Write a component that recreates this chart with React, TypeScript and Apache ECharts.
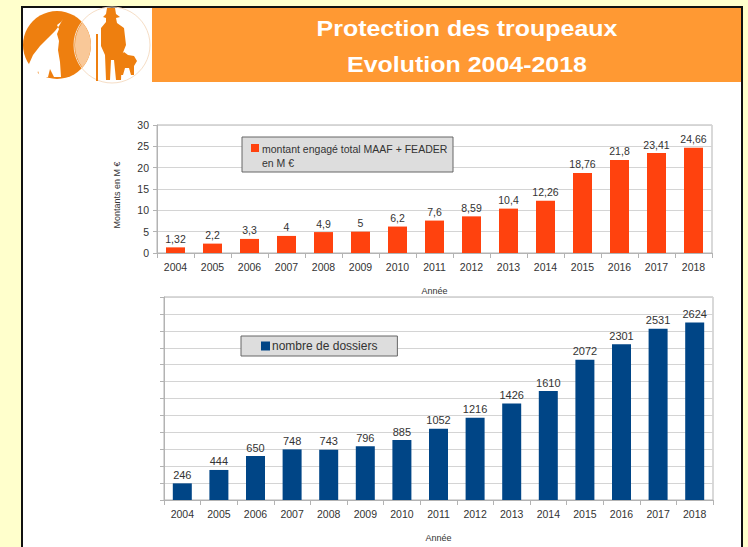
import React, { useEffect, useRef } from "react";
import * as echarts from "echarts";

const years = ["2004", "2005", "2006", "2007", "2008", "2009", "2010", "2011", "2012", "2013", "2014", "2015", "2016", "2017", "2018"];
const montants = [1.32, 2.2, 3.3, 4, 4.9, 5, 6.2, 7.6, 8.59, 10.4, 12.26, 18.76, 21.8, 23.41, 24.66];
const dossiers = [246, 444, 650, 748, 743, 796, 885, 1052, 1216, 1426, 1610, 2072, 2301, 2531, 2624];
const titleLines = ["Protection des troupeaux", "Evolution 2004-2018"];
const topLegend = ["montant engagé total MAAF + FEADER", "en M €"];
const bottomLegend = "nombre de dossiers";
const xName = "Année";
const yNameTop = "Montants en M €";

const FONT = "'Liberation Sans', Arial, sans-serif";

const lensPath = "M81.4 22.4 A34 34 0 0 1 81.4 67.6 A38 38 0 0 1 81.4 22.4 Z";
const wolfPath =
  "M62 19 L58 26 L54 31 L47 38 L39 46 L32 55 L28 64 L29 73 L32 77 L36 77 L37 71 L39 77 L47 77 L49 69 L53 77 L60 77 L59 62 L57 50 L58 41 L56 34 L58 29 L56 25 L60 22 Z";
const shepherdPath =
  "M103 17 L106 14 L107 8 L115 8 L116 14 L120 17 L116 18 L117 23 L124 28 L126 45 L122 55 L121 80 L116 80 L114 60 L111 60 L110 80 L106 80 L105 55 L101 46 L101 28 L106 22 L106 18 Z M96 34 L98 34 L98 81 L96 81 Z M118 58 L124 52 L128 55 L134 56 L137 61 L134 66 L134 75 L131 75 L129 68 L125 68 L123 75 L120 75 L120 66 Z";

let registered = false;
function registerShapes() {
  if (registered) return;
  registered = true;
  echarts.graphic.registerShape("lens", echarts.graphic.extendPath(lensPath, {}));
  echarts.graphic.registerShape("wolf", echarts.graphic.extendPath(wolfPath, {}));
  echarts.graphic.registerShape("shepherd", echarts.graphic.extendPath(shepherdPath, {}));
}

export default function App() {
  const ref = useRef<HTMLDivElement>(null);
  useEffect(() => {
    document.body.style.margin = "0";
    registerShapes();
    const chart = echarts.init(ref.current!, null, { renderer: "svg" });
    const axisLineColor = "#b3b3b3";
    const gridColor = "#d4d4d4";
    const option: any = {
      animation: false,
      backgroundColor: "#FFFFCC",
      textStyle: { fontFamily: FONT },
      grid: [
        { left: 157, right: 36, top: 125, height: 128, show: true, borderColor: axisLineColor, borderWidth: 1 },
        { left: 164, right: 35, top: 297, height: 203, show: true, borderColor: axisLineColor, borderWidth: 1 },
      ],
      xAxis: [
        {
          type: "category",
          gridIndex: 0,
          data: years,
          axisLine: { lineStyle: { color: axisLineColor } },
          axisTick: { show: true, length: 5, lineStyle: { color: axisLineColor } },
          axisLabel: { color: "#333", fontSize: 10.5, margin: 8, fontFamily: FONT },
          name: xName,
          nameLocation: "middle",
          nameGap: 33,
          nameTextStyle: { fontSize: 9, color: "#333", fontFamily: FONT },
        },
        {
          type: "category",
          gridIndex: 1,
          data: years,
          axisLine: { lineStyle: { color: axisLineColor } },
          axisTick: { show: true, length: 5, lineStyle: { color: axisLineColor } },
          axisLabel: { color: "#333", fontSize: 10.5, margin: 8, fontFamily: FONT },
          name: xName,
          nameLocation: "middle",
          nameGap: 33,
          nameTextStyle: { fontSize: 9, color: "#333", fontFamily: FONT },
        },
      ],
      yAxis: [
        {
          type: "value",
          gridIndex: 0,
          min: 0,
          max: 30,
          interval: 5,
          axisLine: { show: true, lineStyle: { color: axisLineColor } },
          axisTick: { show: true, length: 4, lineStyle: { color: axisLineColor } },
          axisLabel: { color: "#333", fontSize: 10.5, margin: 8, fontFamily: FONT },
          splitLine: { lineStyle: { color: gridColor } },
          name: yNameTop,
          nameLocation: "middle",
          nameRotate: 90,
          nameGap: 36,
          nameTextStyle: { fontSize: 9, color: "#333", fontFamily: FONT, padding: [0, 0, 0, -12] },
        },
        {
          type: "value",
          gridIndex: 1,
          min: 0,
          max: 3000,
          interval: 250,
          axisLine: { show: true, lineStyle: { color: axisLineColor } },
          axisTick: { show: true, length: 4, lineStyle: { color: axisLineColor } },
          axisLabel: { show: false },
          splitLine: { lineStyle: { color: gridColor } },
        },
      ],
      legend: [
        {
          data: [bottomLegend],
          left: 241,
          top: 336,
          orient: "horizontal",
          icon: "rect",
          itemWidth: 9,
          itemHeight: 9,
          itemGap: 4,
          backgroundColor: "#dddddd",
          borderColor: "#666",
          borderWidth: 1,
          padding: [4, 20, 4, 20],
          selectedMode: false,
          textStyle: { fontSize: 12, color: "#333", fontFamily: FONT, padding: [0, 0, 0, -3] },
        },
      ],
      series: [
        {
          type: "bar",
          name: topLegend.join("\n"),
          xAxisIndex: 0,
          yAxisIndex: 0,
          data: montants,
          barWidth: 19,
          itemStyle: { color: "#FF420E" },
          label: {
            show: true,
            position: "top",
            distance: 3,
            color: "#333",
            fontSize: 10.5,
            fontFamily: FONT,
            formatter: (p: any) => String(p.value).replace(".", ","),
          },
        },
        {
          type: "bar",
          name: bottomLegend,
          xAxisIndex: 1,
          yAxisIndex: 1,
          data: dossiers,
          barWidth: 19,
          itemStyle: { color: "#004586" },
          label: {
            show: true,
            position: "top",
            distance: 3,
            color: "#333",
            fontSize: 11,
            fontFamily: FONT,
          },
        },
      ],
      graphic: [
        { type: "rect", z: -10, shape: { x: 22, y: 7, width: 720, height: 560 }, style: { fill: "#ffffff", stroke: "#111", lineWidth: 2 } },
        { type: "rect", z: -9, shape: { x: 152, y: 8, width: 589, height: 74 }, style: { fill: "#FF9933" } },
        { type: "circle", z: -9, shape: { cx: 57, cy: 45, r: 34 }, style: { fill: "#EE7F0F" } },
        { type: "circle", z: -9, shape: { cx: 112, cy: 45, r: 38 }, style: { fill: "none", stroke: "#F6DEC6", lineWidth: 1 } },
        { type: "lens", z: -8, x: 1, y: 0, style: { fill: "#F9C898" } },
        { type: "wolf", z: -7, x: 1, y: 0, style: { fill: "#ffffff" } },
        { type: "shepherd", z: -7, x: 0, y: 0, style: { fill: "#EE7F0F" } },
        {
          type: "text",
          z: 5,
          x: 467,
          y: 28,
          scaleX: 1.11,
          style: { text: titleLines[0], fill: "#ffffff", font: `bold 22.5px ${FONT}`, align: "center", verticalAlign: "middle" },
        },
        {
          type: "text",
          z: 5,
          x: 467,
          y: 64,
          scaleX: 1.11,
          style: { text: titleLines[1], fill: "#ffffff", font: `bold 22.5px ${FONT}`, align: "center", verticalAlign: "middle" },
        },
        { type: "rect", z: 5, shape: { x: 242, y: 137, width: 211, height: 35 }, style: { fill: "#dddddd", stroke: "#666", lineWidth: 1 } },
        { type: "rect", z: 6, shape: { x: 251, y: 144, width: 8, height: 8 }, style: { fill: "#FF420E" } },
        {
          type: "text",
          z: 6,
          x: 262,
          y: 142,
          style: { text: topLegend.join("\n"), fill: "#333", font: `10.5px ${FONT}`, lineHeight: 14, align: "left", verticalAlign: "top" },
        },
      ],
    };
    chart.setOption(option);
    return () => chart.dispose();
  }, []);
  return <div ref={ref} style={{ position: "absolute", left: 0, top: 0, width: 748, height: 547 }} />;
}
